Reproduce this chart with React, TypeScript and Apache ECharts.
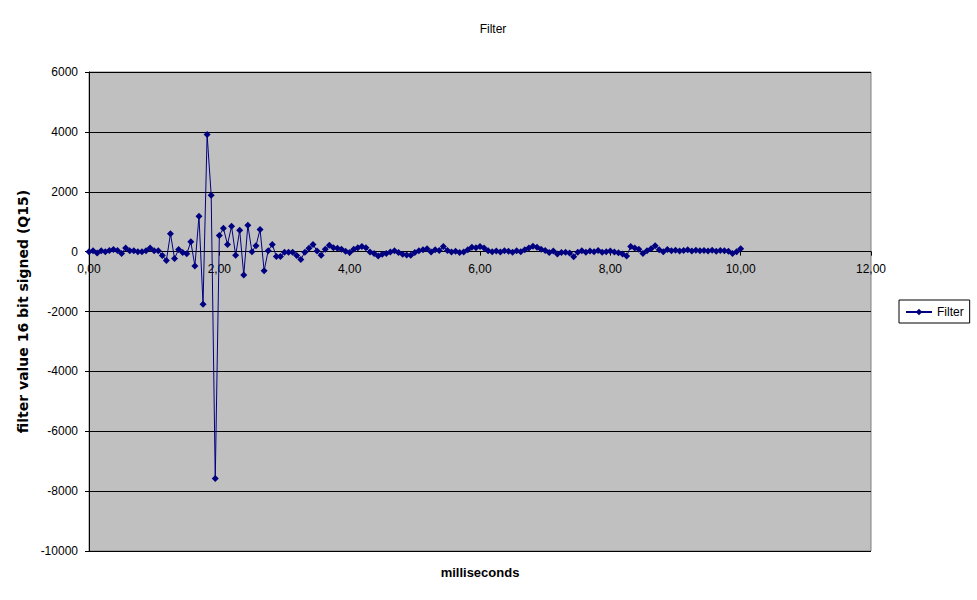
import React, { useEffect, useRef } from "react";
import * as echarts from "echarts";

const sampleStepMs = 0.0625;
const filterValues: number[] = [
  0, 30, -50, 30, 0, 40, 70, 40, -60, 120, 30, 30, 0, 0, 30, 120, 30, 30, -130, -300,
  600, -230, 70, -30, -70, 330, -480, 1180, -1760, 3910, 1880, -7580, 535, 780, 240, 845, -120, 710, -780, 880,
  0, 200, 740, -635, 30, 240, -160, -160, -20, -20, -20, -130, -260, -20, 110, 240, 20, -120, 80, 210,
  130, 110, 80, 10, -30, 80, 130, 170, 130, -10, -60, -150, -90, -60, -10, 30, -30, -90, -110, -120,
  -30, 30, 60, 100, -10, 60, 40, 170, 40, -10, 10, -30, -10, 60, 150, 130, 170, 120, 30, 0,
  20, -10, 30, 10, -20, 30, 0, 60, 120, 180, 150, 80, 40, -30, 20, -80, -30, -20, -50, -170,
  -20, 30, -20, 20, 0, 40, -20, 0, 20, -10, -40, -80, -150, 170, 120, 80, -60, 30, 100, 200,
  60, 0, 70, 30, 50, 20, 40, 60, 20, 50, 30, 40, 20, 50, 10, 40, 30, 10, -60, 0, 100,
];
const xTicks = { min: 0, max: 12, interval: 2 };
const yTicks = { min: -10000, max: 6000, interval: 2000 };

const FONT = "'Liberation Sans', Arial, sans-serif";
const GRID = { left: 89, right: 106, top: 72, bottom: 49 };
const CHART_H = 600;

export default function App() {
  const ref = useRef<HTMLDivElement>(null);
  useEffect(() => {
    if (!ref.current) return;
    const chart = echarts.init(ref.current, undefined, { renderer: "svg" });
    const data = filterValues.map((v, i) => [i * sampleStepMs, v]);
    const plotH = CHART_H - GRID.top - GRID.bottom;
    const zeroY = GRID.top + (plotH * yTicks.max) / (yTicks.max - yTicks.min);
    const xAxisOffset = -(CHART_H - GRID.bottom - zeroY);
    chart.setOption({
      animation: false,
      backgroundColor: "#ffffff",
      textStyle: { fontFamily: FONT },
      title: {
        text: "Filter",
        left: 488,
        top: 18,
        textAlign: "center",
        textStyle: { fontSize: 12, fontWeight: "normal", color: "#000", fontFamily: FONT },
      },
      legend: {
        left: 899,
        top: 300,
        orient: "vertical",
        borderColor: "#000",
        borderWidth: 1,
        padding: [6, 6, 5, 6],
        itemWidth: 26,
        itemHeight: 8,
        itemGap: 4,
        textStyle: { fontSize: 12, color: "#000", fontFamily: FONT },
        data: ["Filter"],
      },
      graphic: [
        {
          type: "text",
          x: 480,
          y: 566,
          style: {
            text: "milliseconds",
            fontSize: 13,
            fontWeight: "bold",
            fill: "#000",
            fontFamily: FONT,
            align: "center",
            verticalAlign: "top",
          },
        },
      ],
      grid: {
        ...GRID,
        show: true,
        backgroundColor: "#c0c0c0",
        borderColor: "#808080",
        borderWidth: 1,
      },
      xAxis: {
        type: "value",
        position: "bottom",
        offset: xAxisOffset,
        min: xTicks.min,
        max: xTicks.max,
        interval: xTicks.interval,
        axisLine: { onZero: false, lineStyle: { color: "#000", width: 1 } },
        axisTick: { show: true, length: 4, lineStyle: { color: "#000" } },
        axisLabel: {
          color: "#000",
          fontSize: 12,
          fontFamily: FONT,
          margin: 11,
          formatter: (v: number) => v.toFixed(2).replace(".", ","),
        },
        splitLine: { show: false },
      },
      yAxis: {
        type: "value",
        min: yTicks.min,
        max: yTicks.max,
        interval: yTicks.interval,
        name: "filter value 16 bit signed (Q15)",
        nameLocation: "middle",
        nameRotate: 90,
        nameGap: 52,
        nameTextStyle: {
          fontSize: 14,
          fontWeight: "bold",
          color: "#000",
          fontFamily: "'DejaVu Sans', Verdana, sans-serif",
        },
        axisLine: { show: true, lineStyle: { color: "#000", width: 1 } },
        axisTick: { show: true, length: 4, lineStyle: { color: "#000" } },
        axisLabel: {
          color: "#000",
          fontSize: 12,
          fontFamily: FONT,
          margin: 11,
          formatter: (v: number) => String(v),
        },
        splitLine: { show: true, lineStyle: { color: "#000", width: 1 } },
      },
      series: [
        {
          name: "Filter",
          type: "line",
          data,
          symbol: "diamond",
          symbolSize: 7,
          showAllSymbol: true,
          lineStyle: { color: "#000080", width: 1 },
          itemStyle: { color: "#000080" },
          z: 3,
        },
      ],
    });
    return () => chart.dispose();
  }, []);
  return <div ref={ref} style={{ width: 977, height: 600, position: "absolute", left: 0, top: 0 }} />;
}
